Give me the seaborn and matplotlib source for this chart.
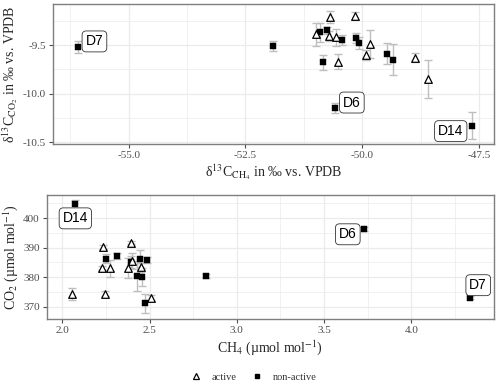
import numpy as np
import pandas as pd
import matplotlib
matplotlib.use("Agg")
import matplotlib.pyplot as plt
from matplotlib.lines import Line2D
from matplotlib.ticker import MultipleLocator, FormatStrFormatter
import seaborn as sns

# upper panel: isotopic signatures
top_active_x = [-51.00, -50.68, -50.71, -50.57, -50.51, -50.16, -49.83, -49.92, -48.87, -48.60]
top_active_y = [-9.39, -9.21, -9.41, -9.42, -9.67, -9.20, -9.49, -9.60, -9.63, -9.85]
top_active_err = [0.12, 0.06, 0.05, 0.09, 0.08, 0.04, 0.14, 0.05, 0.05, 0.20]

top_non_x = [-56.09, -51.905, -50.90, -50.76, -50.43, -50.83, -50.13, -50.07, -49.48, -49.34, -50.58, -47.66]
top_non_y = [-9.52, -9.51, -9.37, -9.35, -9.45, -9.68, -9.43, -9.48, -9.59, -9.65, -10.15, -10.33]
top_non_err = [0.06, 0.05, 0.10, 0.04, 0.05, 0.08, 0.05, 0.06, 0.11, 0.16, 0.05, 0.14]

top_lab = ["D7", "D6", "D14"]
top_lab_x = [-56.09, -50.58, -47.66]
top_lab_y = [-9.52, -10.15, -10.33]

# lower panel: mixing ratios
bot_active_x = [2.054, 2.235, 2.23, 2.275, 2.247, 2.393, 2.374, 2.397, 2.45, 2.51]
bot_active_y = [374.3, 390.2, 383.2, 383.0, 374.5, 391.6, 383.2, 385.5, 383.3, 373.1]
bot_active_err = [2.0, 0.7, 0.7, 2.9, 1.0, 0.5, 3.3, 2.8, 1.5, 1.0]

bot_non_x = [2.075, 2.252, 2.315, 2.426, 2.458, 2.447, 2.485, 2.475, 2.826, 3.731, 4.335, 2.395]
bot_non_y = [404.6, 386.3, 387.1, 380.4, 380.1, 386.2, 385.9, 371.2, 380.4, 396.4, 373.1, 385.2]
bot_non_err = [1.5, 1.5, 1.0, 5.0, 3.0, 2.9, 1.0, 3.3, 0.7, 0.7, 0.5, 2.0]

bot_lab = ["D14", "D6", "D7"]
bot_lab_x = [2.075, 3.731, 4.335]
bot_lab_y = [404.6, 396.4, 373.1]

sns.set_theme(style="whitegrid")
plt.rcParams['font.family'] = ['Liberation Serif', 'DejaVu Serif']
plt.rcParams['mathtext.fontset'] = 'stix'
plt.rcParams['axes.unicode_minus'] = False

ERR_COL = '#BEBEBE'
GRID_COL = '#EBEBEB'


def style_axes(ax):
    ax.set_facecolor('white')
    for s in ax.spines.values():
        s.set_color('#7F7F7F')
        s.set_linewidth(1.0)
    ax.grid(True, which='major', color=GRID_COL, linewidth=0.9)
    ax.grid(True, which='minor', color=GRID_COL, linewidth=0.5)
    ax.tick_params(which='major', length=3, width=0.8, color='#4D4D4D',
                   labelsize=8, labelcolor='#4D4D4D', pad=2, bottom=True, left=True)
    ax.tick_params(which='minor', length=0)
    ax.set_axisbelow(True)


def draw(ax, ax_x, ax_y, ae, nx, ny, ne):
    ax.errorbar(ax_x, ax_y, yerr=ae, fmt='none', ecolor=ERR_COL, elinewidth=1.0,
                capsize=3, capthick=1.0, zorder=2)
    ax.errorbar(nx, ny, yerr=ne, fmt='none', ecolor=ERR_COL, elinewidth=1.0,
                capsize=3, capthick=1.0, zorder=2)
    df_a = pd.DataFrame({'x': ax_x, 'y': ax_y})
    df_n = pd.DataFrame({'x': nx, 'y': ny})
    sns.scatterplot(data=df_n, x='x', y='y', marker='s', s=16, color='black',
                    edgecolor='black', linewidth=0.3, ax=ax, zorder=3)
    sns.scatterplot(data=df_a, x='x', y='y', marker='^', s=30, facecolor='white',
                    edgecolor='black', linewidth=0.9, ax=ax, zorder=4)


def labels(ax, names, xs, ys, offsets):
    for n, x, y, off in zip(names, xs, ys, offsets):
        ax.annotate(n, (x, y), xytext=off, textcoords='offset points',
                    ha='center', va='center', fontsize=10, family='Liberation Sans',
                    color='black', zorder=6,
                    bbox=dict(boxstyle='round,pad=0.25,rounding_size=0.3',
                              fc='white', ec='#333333', lw=0.6))


fig = plt.figure(figsize=(5.0, 3.84), dpi=100)
ax1 = fig.add_axes([0.106, 0.625, 0.882, 0.3646])
ax2 = fig.add_axes([0.0934, 0.1693, 0.8946, 0.3229])

# upper panel
draw(ax1, top_active_x, top_active_y, top_active_err, top_non_x, top_non_y, top_non_err)
style_axes(ax1)
ax1.set_xlim(-56.62, -47.18)
ax1.set_ylim(-10.52, -9.077)
ax1.xaxis.set_major_locator(MultipleLocator(2.5))
ax1.xaxis.set_minor_locator(MultipleLocator(1.25))
ax1.yaxis.set_major_locator(MultipleLocator(0.5))
ax1.yaxis.set_minor_locator(MultipleLocator(0.25))
ax1.xaxis.set_major_formatter(FormatStrFormatter('%.1f'))
ax1.yaxis.set_major_formatter(FormatStrFormatter('%.1f'))
ax1.set_xlabel(r'δ$^{13}$C$_{\mathrm{CH_4}}$ in ‰ vs. VPDB', fontsize=10, labelpad=2)
ax1.set_ylabel(r'δ$^{13}$C$_{\mathrm{CO_2}}$ in ‰ vs. VPDB', fontsize=10, labelpad=2)
labels(ax1, top_lab, top_lab_x, top_lab_y, [(12, 4), (12, 4), (-15, -4)])

# lower panel
draw(ax2, bot_active_x, bot_active_y, bot_active_err, bot_non_x, bot_non_y, bot_non_err)
style_axes(ax2)
ax2.set_xlim(1.911, 4.473)
ax2.set_ylim(365.9, 407.8)
ax2.xaxis.set_major_locator(MultipleLocator(0.5))
ax2.xaxis.set_minor_locator(MultipleLocator(0.25))
ax2.yaxis.set_major_locator(MultipleLocator(10))
ax2.yaxis.set_minor_locator(MultipleLocator(5))
ax2.xaxis.set_major_formatter(FormatStrFormatter('%.1f'))
ax2.set_xlabel(r'CH$_4$ (µmol mol$^{-1}$)', fontsize=10, labelpad=2)
ax2.set_ylabel(r'CO$_2$ (µmol mol$^{-1}$)', fontsize=10, labelpad=2)
labels(ax2, bot_lab, bot_lab_x, bot_lab_y, [(0, -10), (-12, -4), (6, 9)])

handles = [
    Line2D([], [], marker='^', linestyle='none', markerfacecolor='white',
           markeredgecolor='black', markersize=5, markeredgewidth=0.9, label='active'),
    Line2D([], [], marker='s', linestyle='none', color='black', markersize=3.5,
           label='non-active'),
]
fig.legend(handles=handles, loc='center', bbox_to_anchor=(0.502, 0.017), ncol=2,
           frameon=False, fontsize=7.5, handletextpad=0.5, columnspacing=1.0,
           labelcolor='#333333')

fig.savefig('out.png', dpi=100)
